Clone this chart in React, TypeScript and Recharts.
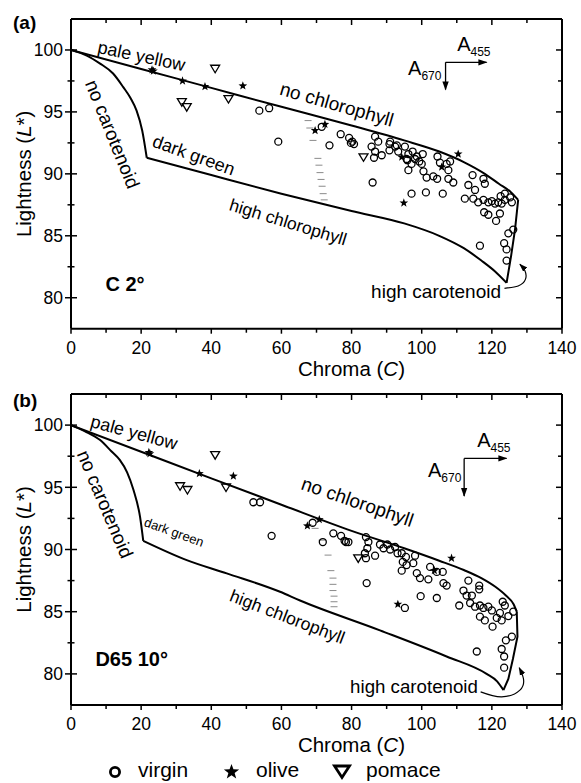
import React from 'react'
import { ComposedChart, Line, Scatter, XAxis, YAxis, ReferenceLine } from 'recharts'

const FONT = '"Liberation Sans", Arial, sans-serif'

const chromaTicks = [0, 10, 20, 30, 40, 50, 60, 70, 80, 90, 100, 110, 120, 130, 140]
const lightnessTicks = [80, 82.5, 85, 87.5, 90, 92.5, 95, 97.5, 100]

type Pt = [number, number]
const pts = (arr: Pt[]) => arr.map(([c, l]) => ({ c, l }))

// ---- panel (a): C 2°
const virginA: Pt[] = [
  [53.7, 95.1], [56.5, 95.3], [59.1, 92.6],
  [71.5, 93.8], [73.7, 92.3], [76.9, 93.2], [79.3, 92.9], [79.8, 92.5], [80.7, 92.4], [80.2, 92.6],
  [86.0, 89.3], [85.7, 92.2], [86.7, 93.0], [87.6, 92.6], [86.4, 91.3], [86.7, 91.8], [88.6, 91.5],
  [90.8, 92.4], [91.0, 92.6], [90.8, 91.9], [92.4, 92.2], [92.9, 92.3], [93.3, 91.8], [95.2, 92.2],
  [95.7, 91.2], [96.2, 91.6], [95.9, 91.1], [96.2, 90.3], [97.4, 91.8], [98.1, 91.2], [98.6, 91.4],
  [97.1, 90.8], [99.3, 91.0], [100.3, 91.6], [100.0, 90.8], [100.5, 90.2], [101.4, 89.7], [103.3, 89.8],
  [104.4, 89.6], [104.5, 91.4], [105.2, 90.9], [107.1, 90.8], [107.6, 90.3], [107.6, 89.6], [108.1, 91.0],
  [109.0, 89.3], [97.1, 88.4], [101.2, 88.5], [106.0, 88.4],
  [114.5, 89.9], [113.3, 89.1], [115.2, 88.7], [117.6, 89.6], [118.0, 89.2],
  [112.3, 88.0], [114.7, 88.0], [116.1, 87.7], [117.6, 87.9], [119.0, 87.7], [120.0, 87.8], [120.9, 87.6],
  [121.8, 87.7], [122.8, 87.6], [123.7, 87.9], [125.7, 87.7], [123.7, 88.4], [125.2, 88.1], [122.5, 88.2],
  [117.8, 86.9], [119.0, 86.7], [121.2, 86.2], [122.3, 86.8],
  [116.6, 84.2], [124.7, 85.2], [126.1, 85.5], [123.5, 84.4], [124.2, 83.9], [124.2, 83.0],
]
const oliveA: Pt[] = [
  [23.5, 98.3], [23.1, 98.4], [31.8, 97.5], [38.2, 97.05], [49.0, 97.1], [69.6, 93.5], [72.4, 94.0],
  [94.3, 91.35], [105.7, 90.55], [110.4, 91.6], [94.9, 87.65],
]
const pomaceA: Pt[] = [[41.1, 98.5], [31.6, 95.8], [33.0, 95.4], [44.9, 96.05], [83.4, 91.35]]

const noChlorophyllA: Pt[] = [
  [0, 100], [20, 98.47], [40, 96.94], [60, 95.41], [80, 93.9], [95, 92.7], [105, 91.8],
  [112, 90.95], [118, 90.0], [122, 89.2], [125.5, 88.5], [127.5, 87.9],
]
const rightEdgeA: Pt[] = [[127.5, 87.9], [126.6, 85.5], [125.5, 83.4], [124.2, 81.2]]
const highChlorophyllA: Pt[] = [
  [21.6, 91.3], [40, 89.9], [60, 88.4], [80, 87.0], [95, 86.0], [105, 85.0], [112, 84.0],
  [117, 83.0], [121, 82.1], [124.2, 81.2],
]
const noCarotenoidA: Pt[] = [
  [0, 100], [4.5, 99.55], [8.3, 98.9], [12, 98.1], [14.9, 97.0], [17, 96.1], [18.7, 95.1], [20.3, 93.5], [21.6, 91.3],
]
const dashesA: Pt[] = [
  [67.6, 94.3], [68.1, 93.7], [69.0, 92.7], [70.4, 91.25], [70.7, 90.7], [71.0, 90.1], [71.3, 89.55],
  [71.6, 89.0], [71.9, 88.4], [72.2, 87.9],
]
const hookA: Pt[] = [[123.6, 80.76], [127.5, 80.95], [129.6, 81.5], [129.4, 82.2], [128.0, 82.7]]
const arrowRightA: Pt[] = [[106.8, 99.0], [118.5, 99.0]]
const arrowDownA: Pt[] = [[106.8, 99.0], [106.8, 96.8]]

// ---- panel (b): D65 10°
const virginB: Pt[] = [
  [52.0, 93.8], [53.9, 93.8], [57.2, 91.1], [68.9, 92.15], [71.8, 90.6], [74.8, 91.3], [77.0, 91.1],
  [78.0, 90.7], [78.4, 90.6], [79.1, 90.6], [84.1, 91.0], [84.8, 90.6], [84.5, 90.1], [83.8, 89.7],
  [84.1, 89.3], [86.7, 89.5], [84.3, 87.3], [88.1, 90.4], [89.1, 90.1], [90.2, 90.4], [91.0, 90.0],
  [92.4, 90.2], [93.1, 89.7], [94.3, 89.7], [94.6, 89.0], [95.5, 89.4], [95.7, 88.75], [94.3, 88.3],
  [97.6, 88.9], [98.1, 89.5], [98.6, 88.1], [99.5, 87.7], [101.9, 87.6], [102.4, 88.6], [104.3, 88.2],
  [106.0, 88.2], [106.2, 87.3], [107.1, 87.1], [99.7, 86.25], [104.3, 86.1], [95.2, 85.3],
  [113.3, 87.5], [116.4, 87.1], [116.4, 86.8], [111.9, 86.7], [112.8, 86.3], [114.3, 86.3], [110.7, 85.5],
  [113.8, 85.7], [115.2, 85.4], [116.6, 85.5], [117.6, 85.3], [116.6, 84.6], [118.0, 84.3], [119.0, 85.4],
  [120.0, 85.1], [120.2, 83.8], [121.4, 84.5], [122.3, 84.9], [123.1, 85.8], [123.7, 85.5], [124.7, 84.65],
  [126.1, 85.0], [122.8, 84.3], [115.7, 81.8], [125.7, 83.0], [124.0, 82.7], [122.8, 82.0], [123.5, 81.4],
  [123.5, 80.5],
]
const oliveB: Pt[] = [
  [22.5, 97.7], [22.2, 97.8], [36.6, 96.1], [46.3, 95.9], [67.4, 91.9], [70.8, 92.4], [108.5, 89.3],
  [103.6, 88.3], [93.2, 85.6],
]
const pomaceB: Pt[] = [[41.1, 97.6], [31.1, 95.1], [33.2, 94.8], [44.2, 95.0], [81.9, 89.3]]

const noChlorophyllB: Pt[] = [
  [0, 100], [20, 97.86], [40, 95.72], [60, 93.6], [80, 91.5], [95, 90.1], [105, 89.1], [112, 88.35],
  [117, 87.7], [121, 87.0], [124, 86.3], [126.2, 85.6], [127.1, 85.0],
]
const rightEdgeB: Pt[] = [[127.1, 85.0], [127.3, 83.0], [126.0, 81.2], [124.7, 79.6], [123.3, 78.7]]
const highChlorophyllB: Pt[] = [
  [20.6, 90.7], [33, 89.15], [44.4, 88.08], [59.6, 86.6], [65.3, 85.9], [88.1, 83.5], [107.1, 81.4],
  [118.5, 80.0], [121.5, 79.4], [123.3, 78.7],
]
const noCarotenoidB: Pt[] = [
  [0, 100], [4, 99.5], [8.3, 98.8], [11.5, 97.9], [13.9, 97.2], [16, 96.2], [17.8, 94.8], [19.7, 92.6], [20.6, 90.7],
]
const dashesB: Pt[] = [
  [69.6, 91.7], [71.6, 90.75], [73.3, 89.55], [74.1, 88.3], [74.7, 87.7], [74.7, 87.2], [74.7, 86.7],
  [75.0, 86.25], [75.0, 85.8], [75.0, 85.4],
]
const hookB: Pt[] = [[116.8, 78.56], [122.8, 78.16], [128.0, 78.7], [129.0, 79.63], [127.8, 80.5]]
const arrowRightB: Pt[] = [[112.1, 97.32], [124.2, 97.32]]
const arrowDownB: Pt[] = [[112.1, 97.32], [112.1, 94.3]]

// text annotations, placed in data coordinates
const notesA = [
  { c: 20.1, l: 99.5, text: 'pale yellow', angle: 12, size: 18 },
  { c: 11.8, l: 93.2, text: 'no carotenoid', angle: 68, size: 19 },
  { c: 35.0, l: 91.5, text: 'dark green', angle: 20, size: 18 },
  { c: 75.8, l: 95.6, text: 'no chlorophyll', angle: 16, size: 19 },
  { c: 61.9, l: 86.1, text: 'high chlorophyll', angle: 17, size: 17.5 },
  { c: 104.1, l: 80.54, text: 'high carotenoid', angle: 0, size: 19 },
  { c: 15.4, l: 81.1, text: 'C 2°', angle: 0, size: 20, bold: true },
  { c: 110.1, l: 99.94, text: 'A', sub: '455', angle: 0, size: 20, anchor: 'start' },
  { c: 96.1, l: 98.01, text: 'A', sub: '670', angle: 0, size: 20, anchor: 'start' },
]
const notesB = [
  { c: 18.0, l: 99.4, text: 'pale yellow', angle: 15, size: 18 },
  { c: 9.7, l: 93.65, text: 'no carotenoid', angle: 67, size: 19 },
  { c: 29.4, l: 91.4, text: 'dark green', angle: 20, size: 13 },
  { c: 81.7, l: 93.83, text: 'no chlorophyll', angle: 19, size: 19 },
  { c: 61.7, l: 84.59, text: 'high chlorophyll', angle: 21, size: 17.5 },
  { c: 97.8, l: 79.02, text: 'high carotenoid', angle: 0, size: 18.7 },
  { c: 17.3, l: 81.23, text: 'D65 10°', angle: 0, size: 20, bold: true },
  { c: 115.8, l: 98.23, text: 'A', sub: '455', angle: 0, size: 20, anchor: 'start' },
  { c: 101.8, l: 95.82, text: 'A', sub: '670', angle: 0, size: 20, anchor: 'start' },
]

function starPath(cx: number, cy: number, R: number, r: number) {
  let d = ''
  for (let i = 0; i < 10; i++) {
    const rad = i % 2 === 0 ? R : r
    const a = -Math.PI / 2 + (i * Math.PI) / 5
    d += (i ? 'L' : 'M') + (cx + rad * Math.cos(a)).toFixed(2) + ',' + (cy + rad * Math.sin(a)).toFixed(2)
  }
  return d + 'Z'
}

const Circle = (p: any) => <circle cx={p.cx} cy={p.cy} r={3.5} fill="none" stroke="#000" strokeWidth={1.3} />
const Star = (p: any) => <path d={starPath(p.cx, p.cy, 4.6, 1.9)} fill="#000" />
const Tri = (p: any) => (
  <path
    d={`M${p.cx - 4.5},${p.cy - 3.3}L${p.cx + 4.5},${p.cy - 3.3}L${p.cx},${p.cy + 4.2}Z`}
    fill="none"
    stroke="#000"
    strokeWidth={1.3}
  />
)
const Dash = (p: any) => <line x1={p.cx - 3.5} x2={p.cx + 3.5} y1={p.cy} y2={p.cy} stroke="#8a8a8a" strokeWidth={1} />
const Note = (p: any) => {
  const d = p.payload
  return (
    <text
      x={p.cx}
      y={p.cy}
      transform={d.angle ? `rotate(${d.angle} ${p.cx} ${p.cy})` : undefined}
      textAnchor={d.anchor || 'middle'}
      dominantBaseline={d.sub ? 'alphabetic' : 'central'}
      fontSize={d.size}
      fontWeight={d.bold ? 700 : 400}
      fontFamily={FONT}
      fill="#000"
    >
      {d.text}
      {d.sub && (
        <tspan fontSize={12} dy={5}>
          {d.sub}
        </tspan>
      )}
    </text>
  )
}

const XTick = (p: any) => {
  const v = p.payload.value
  const major = v % 20 === 0
  return (
    <g>
      <line x1={p.x} x2={p.x} y1={p.y} y2={p.y + (major ? 5 : 4)} stroke="#000" strokeWidth={1.5} />
      <line x1={p.x} x2={p.x} y1={p.y - p.plotH} y2={p.y - p.plotH + (major ? 6 : 4)} stroke="#000" strokeWidth={1.5} />
      {major && (
        <text x={p.x} y={p.y + 25} textAnchor="middle" fontSize={17.5} fontFamily={FONT} fill="#000">
          {v}
        </text>
      )}
    </g>
  )
}

const YTick = (p: any) => {
  const v = p.payload.value
  const major = v % 5 === 0
  return (
    <g>
      <line x1={p.x - (major ? 6 : 3.5)} x2={p.x + (major ? 6 : 3.5)} y1={p.y} y2={p.y} stroke="#000" strokeWidth={1.5} />
      <line x1={p.x + p.plotW} x2={p.x + p.plotW - (major ? 6 : 4)} y1={p.y} y2={p.y} stroke="#000" strokeWidth={1.5} />
      {major && (
        <text x={p.x - 8} y={p.y} dy="0.36em" textAnchor="end" fontSize={17.5} fontFamily={FONT} fill="#000">
          {v}
        </text>
      )}
    </g>
  )
}

type PanelProps = {
  id: string
  top: number
  height: number
  marginTop: number
  marginBottom: number
  letter: string
  letterY: number
  titleY: number
  virgin: Pt[]
  olive: Pt[]
  pomace: Pt[]
  upper: Pt[]
  right: Pt[]
  lower: Pt[]
  noCar: Pt[]
  dashes: Pt[]
  hook: Pt[]
  arrowRight: Pt[]
  arrowDown: Pt[]
  notes: any[]
  legend?: boolean
}

const PLOT_W = 491

function Panel(p: PanelProps) {
  const plotH = p.height - p.marginTop - p.marginBottom - 30
  const line = { stroke: '#000', strokeWidth: 2, dot: false, isAnimationActive: false, dataKey: 'l' } as any
  return (
    <div style={{ position: 'absolute', left: 0, top: p.top, width: 581, height: p.height }}>
      <ComposedChart width={581} height={p.height} margin={{ top: p.marginTop, right: 19, bottom: p.marginBottom, left: 21 }}>
        <defs>
          <marker id={`ah-${p.id}`} viewBox="0 0 10 10" refX="9" refY="5" markerWidth="7" markerHeight="7" orient="auto">
            <path d="M0,1.5L10,5L0,8.5Z" fill="#000" />
          </marker>
        </defs>
        <XAxis
          type="number"
          dataKey="c"
          domain={[0, 140]}
          ticks={chromaTicks}
          interval={0}
          tickSize={0}
          tickMargin={0}
          tickLine={false}
          allowDataOverflow
          height={30}
          axisLine={{ stroke: '#000', strokeWidth: 2 }}
          tick={(t: any) => <XTick {...t} plotH={plotH} />}
        />
        <YAxis
          type="number"
          dataKey="l"
          domain={[77.5, 102.5]}
          ticks={lightnessTicks}
          interval={0}
          tickSize={0}
          tickMargin={0}
          tickLine={false}
          allowDataOverflow
          width={50}
          axisLine={{ stroke: '#000', strokeWidth: 2 }}
          tick={(t: any) => <YTick {...t} plotW={PLOT_W} />}
        />
        <ReferenceLine y={102.5} stroke="#000" strokeWidth={2} ifOverflow="visible" />
        <ReferenceLine x={140} stroke="#000" strokeWidth={2} ifOverflow="visible" />

        <Line {...line} data={pts(p.upper)} type="monotone" />
        <Line {...line} data={pts(p.right)} type="linear" />
        <Line {...line} data={pts(p.lower)} type="monotone" />
        <Line {...line} data={pts(p.noCar)} type="monotone" />
        <Line {...line} strokeWidth={1.2} data={pts(p.hook)} type="natural" markerEnd={`url(#ah-${p.id})`} />
        <Line {...line} strokeWidth={1.3} data={pts(p.arrowRight)} type="linear" markerEnd={`url(#ah-${p.id})`} />
        <Line {...line} strokeWidth={1.3} data={pts(p.arrowDown)} type="linear" markerEnd={`url(#ah-${p.id})`} />

        <Scatter data={pts(p.dashes)} shape={Dash} isAnimationActive={false} />
        <Scatter data={pts(p.virgin)} shape={Circle} isAnimationActive={false} />
        <Scatter data={pts(p.pomace)} shape={Tri} isAnimationActive={false} />
        <Scatter data={pts(p.olive)} shape={Star} isAnimationActive={false} />
        <Scatter data={p.notes} shape={Note} isAnimationActive={false} />

        <text x={13} y={p.letterY} fontSize={19} fontWeight={700} fontFamily={FONT} fill="#000">
          {p.letter}
        </text>
        <text
          x={31}
          y={p.marginTop + plotH / 2}
          transform={`rotate(-90 31 ${p.marginTop + plotH / 2})`}
          textAnchor="middle"
          fontSize={20.5}
          fontFamily={FONT}
          fill="#000"
        >
          Lightness (<tspan fontStyle="italic">L</tspan>*)
        </text>
        <text x={405} y={p.titleY} textAnchor="end" fontSize={20.5} fontFamily={FONT} fill="#000">
          Chroma{'\u00a0'}(<tspan fontStyle="italic">C</tspan>)
        </text>
        {p.legend && (
          <g fontFamily={FONT} fontSize={21} fill="#000">
            <circle cx={115} cy={392} r={4.6} fill="none" stroke="#000" strokeWidth={2.8} />
            <text x={138} y={397}>virgin</text>
            <path d={starPath(231.5, 392, 8, 3.3)} fill="#000" />
            <text x={256} y={397}>olive</text>
            <path d="M334.5,386L349.5,386L342,397.5Z" fill="none" stroke="#000" strokeWidth={2.8} strokeLinejoin="miter" />
            <text x={366} y={397}>pomace</text>
          </g>
        )}
      </ComposedChart>
    </div>
  )
}

export default function App() {
  return (
    <div style={{ position: 'absolute', left: 0, top: 0, width: 581, height: 783, background: '#fff' }}>
      <Panel
        id="a"
        top={0}
        height={385}
        marginTop={19}
        marginBottom={26.3}
        letter="(a)"
        letterY={29}
        titleY={376}
        virgin={virginA}
        olive={oliveA}
        pomace={pomaceA}
        upper={noChlorophyllA}
        right={rightEdgeA}
        lower={highChlorophyllA}
        noCar={noCarotenoidA}
        dashes={dashesA}
        hook={hookA}
        arrowRight={arrowRightA}
        arrowDown={arrowDownA}
        notes={notesA}
      />
      <Panel
        id="b"
        top={380}
        height={403}
        marginTop={14}
        marginBottom={48}
        letter="(b)"
        letterY={27}
        titleY={372}
        virgin={virginB}
        olive={oliveB}
        pomace={pomaceB}
        upper={noChlorophyllB}
        right={rightEdgeB}
        lower={highChlorophyllB}
        noCar={noCarotenoidB}
        dashes={dashesB}
        hook={hookB}
        arrowRight={arrowRightB}
        arrowDown={arrowDownB}
        notes={notesB}
        legend
      />
    </div>
  )
}
